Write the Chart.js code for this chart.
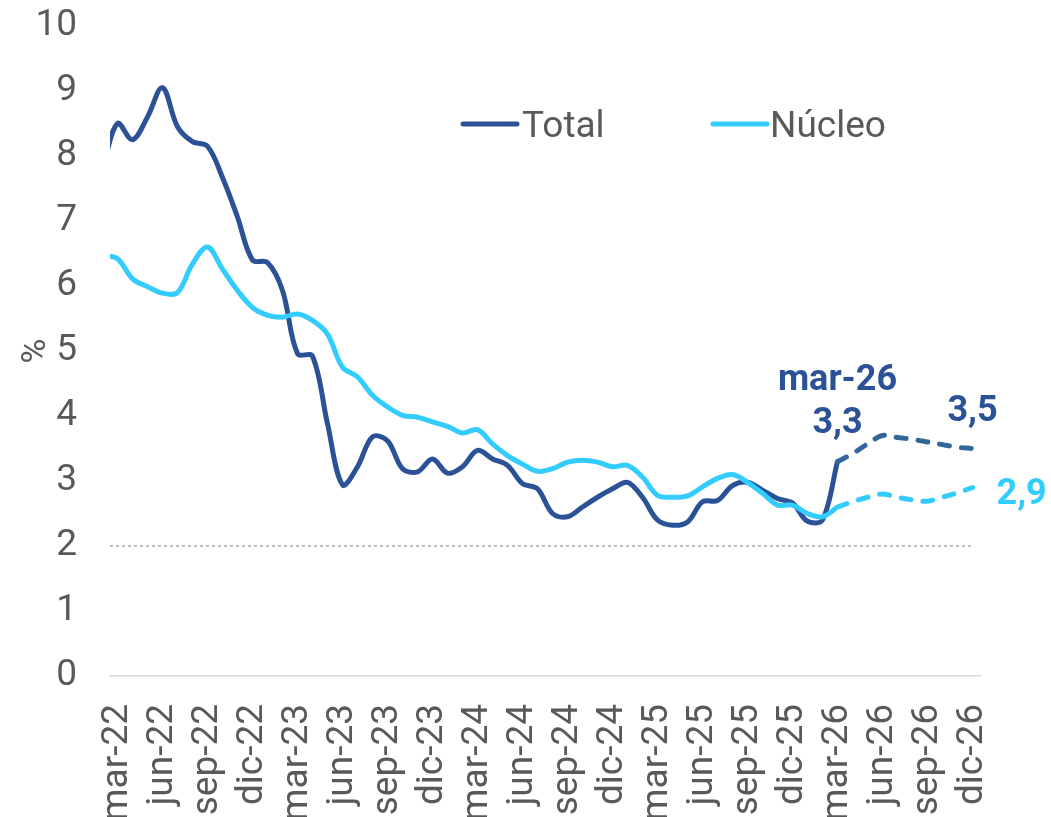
<!DOCTYPE html>
<html lang="es">
<head>
    <meta charset="UTF-8">
    <title>Inflación total y núcleo</title>
    <style>
        body {
            margin: 0;
            background: #ffffff;
            font-family: Roboto, sans-serif;
        }
        #chartBox {
            width: 1051px;
            height: 817px;
        }
    </style>
</head>
<body>
    <div id="chartBox">
        <canvas id="inflationChart" width="1051" height="817"></canvas>
    </div>

    <script src="https://cdn.jsdelivr.net/npm/chart.js@4.4.0/dist/chart.umd.min.js"></script>
    <script>
        // --- Data ---
        const months = [
            'feb-22', 'mar-22', 'abr-22', 'may-22', 'jun-22', 'jul-22', 'ago-22', 'sep-22', 'oct-22', 'nov-22', 'dic-22',
            'ene-23', 'feb-23', 'mar-23', 'abr-23', 'may-23', 'jun-23', 'jul-23', 'ago-23', 'sep-23', 'oct-23', 'nov-23', 'dic-23',
            'ene-24', 'feb-24', 'mar-24', 'abr-24', 'may-24', 'jun-24', 'jul-24', 'ago-24', 'sep-24', 'oct-24', 'nov-24', 'dic-24',
            'ene-25', 'feb-25', 'mar-25', 'abr-25', 'may-25', 'jun-25', 'jul-25', 'ago-25', 'sep-25', 'oct-25', 'nov-25', 'dic-25',
            'ene-26', 'feb-26', 'mar-26', 'abr-26', 'may-26', 'jun-26', 'jul-26', 'ago-26', 'sep-26', 'oct-26', 'nov-26', 'dic-26'
        ];

        // shown on the x axis, one every quarter
        const tickMonths = [
            'mar-22', 'jun-22', 'sep-22', 'dic-22', 'mar-23', 'jun-23', 'sep-23', 'dic-23',
            'mar-24', 'jun-24', 'sep-24', 'dic-24', 'mar-25', 'jun-25', 'sep-25', 'dic-25',
            'mar-26', 'jun-26', 'sep-26', 'dic-26'
        ];

        // observed, feb-22 .. mar-26
        const totalActual = [
            7.8, 8.5, 8.25, 8.6, 9.05, 8.45, 8.22, 8.15, 7.67, 7.06, 6.4,
            6.36, 5.93, 4.96, 4.92, 3.88, 2.94, 3.22, 3.68, 3.62, 3.19, 3.14, 3.34,
            3.12, 3.22, 3.47, 3.34, 3.24, 2.96, 2.88, 2.5, 2.45, 2.6, 2.75, 2.88,
            2.98, 2.75, 2.4, 2.32, 2.37, 2.68, 2.7, 2.93, 2.98, 2.86, 2.73, 2.66,
            2.38, 2.4, 3.3
        ];
        const coreActual = [
            6.47, 6.42, 6.11, 5.99, 5.89, 5.9, 6.34, 6.6, 6.26, 5.93, 5.67,
            5.55, 5.52, 5.57, 5.47, 5.26, 4.75, 4.6, 4.32, 4.14, 4.01, 3.98, 3.91,
            3.84, 3.74, 3.79, 3.57, 3.39, 3.26, 3.15, 3.19, 3.29, 3.32, 3.29, 3.22,
            3.24, 3.06, 2.78, 2.75, 2.77, 2.91, 3.04, 3.1, 2.98, 2.81, 2.63, 2.63,
            2.5, 2.45, 2.6
        ];

        // projection, mar-26 .. dic-26
        const totalForecast = [3.3, 3.42, 3.57, 3.7, 3.67, 3.64, 3.6, 3.56, 3.52, 3.5];
        const coreForecast = [2.6, 2.68, 2.75, 2.8, 2.75, 2.71, 2.69, 2.75, 2.82, 2.9];

        const targetLevel = 2;
        const forecastStart = months.indexOf('mar-26');
        const lastMonth = months.indexOf('dic-26');

        const seriesNames = ['Total', 'Núcleo'];

        // --- Colours ---
        const totalColor = '#2B5197';
        const totalForecastColor = '#336699';
        const coreColor = '#33CCFF';
        const textColor = '#595959';

        function toPoints(values, start) {
            return values.map((v, i) => ({ x: start + i, y: v }));
        }

        function fmt(v) {
            return v.toFixed(1).replace('.', ',');
        }

        // --- Legend + labels drawn on top of the plot ---
        const overlayText = {
            id: 'overlayText',
            afterDatasetsDraw(chart) {
                const { ctx, scales: { x, y } } = chart;
                ctx.save();

                // legend
                const legend = [
                    { name: seriesNames[0], color: totalColor, x0: 463, x1: 517, tx: 522 },
                    { name: seriesNames[1], color: coreColor, x0: 713, x1: 767, tx: 770 }
                ];
                legend.forEach(item => {
                    ctx.strokeStyle = item.color;
                    ctx.lineWidth = 5;
                    ctx.lineCap = 'round';
                    ctx.beginPath();
                    ctx.moveTo(item.x0, 124);
                    ctx.lineTo(item.x1, 124);
                    ctx.stroke();
                    ctx.fillStyle = textColor;
                    ctx.font = '37px Roboto';
                    ctx.textAlign = 'left';
                    ctx.textBaseline = 'alphabetic';
                    ctx.fillText(item.name, item.tx, 137);
                });

                // annotations
                ctx.font = 'bold 36px Roboto';
                ctx.textBaseline = 'alphabetic';
                const xs = x.getPixelForValue(forecastStart);
                const ys = y.getPixelForValue(totalForecast[0]);
                ctx.fillStyle = totalColor;
                ctx.textAlign = 'center';
                ctx.fillText(months[forecastStart], xs, ys - 72);
                ctx.fillText(fmt(totalForecast[0]), xs, ys - 29);

                const xe = x.getPixelForValue(lastMonth);
                const totalEnd = totalForecast[totalForecast.length - 1];
                const coreEnd = coreForecast[coreForecast.length - 1];
                ctx.fillText(fmt(totalEnd), xe, y.getPixelForValue(totalEnd) - 28);

                ctx.fillStyle = coreColor;
                ctx.textAlign = 'left';
                ctx.fillText(fmt(coreEnd), xe + 24, y.getPixelForValue(coreEnd) + 16);

                ctx.restore();
            }
        };

        const lineBase = {
            borderWidth: 5,
            pointRadius: 0,
            tension: 0.35,
            fill: false
        };

        const ctx = document.getElementById('inflationChart').getContext('2d');
        new Chart(ctx, {
            type: 'line',
            data: {
                datasets: [
                    {
                        ...lineBase,
                        label: 'Núcleo proyección',
                        data: toPoints(coreForecast, forecastStart),
                        borderColor: coreColor,
                        borderDash: [10, 12],
                        borderCapStyle: 'round'
                    },
                    {
                        ...lineBase,
                        label: 'Núcleo',
                        data: toPoints(coreActual, 0),
                        borderColor: coreColor
                    },
                    {
                        ...lineBase,
                        label: 'Total proyección',
                        data: toPoints(totalForecast, forecastStart),
                        borderColor: totalForecastColor,
                        borderDash: [10, 12],
                        borderCapStyle: 'round'
                    },
                    {
                        ...lineBase,
                        label: 'Total',
                        data: toPoints(totalActual, 0),
                        borderColor: totalColor
                    },
                    {
                        label: 'Meta',
                        data: [{ x: 0.5, y: targetLevel }, { x: lastMonth, y: targetLevel }],
                        borderColor: '#7F7F7F',
                        borderWidth: 1,
                        borderDash: [3, 3],
                        pointRadius: 0,
                        tension: 0
                    }
                ]
            },
            options: {
                responsive: false,
                animation: false,
                devicePixelRatio: 1,
                layout: {
                    padding: { top: 26, right: 71, bottom: 0, left: 0 }
                },
                plugins: {
                    legend: { display: false },
                    tooltip: { enabled: false }
                },
                scales: {
                    x: {
                        type: 'linear',
                        min: 0.5,
                        max: lastMonth + 0.5,
                        afterBuildTicks: axis => {
                            axis.ticks = tickMonths.map(m => ({ value: months.indexOf(m) }));
                        },
                        afterFit: axis => { axis.height = 141; },
                        grid: { display: false, drawTicks: false },
                        border: { display: true, color: '#D9D9D9', width: 1.5 },
                        ticks: {
                            autoSkip: false,
                            minRotation: 90,
                            maxRotation: 90,
                            padding: 28,
                            color: textColor,
                            font: { family: 'Roboto', size: 37 },
                            callback: v => months[v]
                        }
                    },
                    y: {
                        min: 0,
                        max: 10,
                        afterFit: axis => {
                            axis.width = 110;
                            axis.paddingTop = 0;
                            axis.paddingBottom = 0;
                        },
                        grid: { display: false, drawTicks: false },
                        border: { display: false },
                        ticks: {
                            stepSize: 1,
                            padding: 33,
                            color: textColor,
                            font: { family: 'Roboto', size: 37 }
                        },
                        title: {
                            display: true,
                            text: '%',
                            color: textColor,
                            font: { family: 'Roboto', size: 34 },
                            padding: { top: 16, bottom: 0 }
                        }
                    }
                }
            },
            plugins: [overlayText]
        });
    </script>
</body>
</html>
